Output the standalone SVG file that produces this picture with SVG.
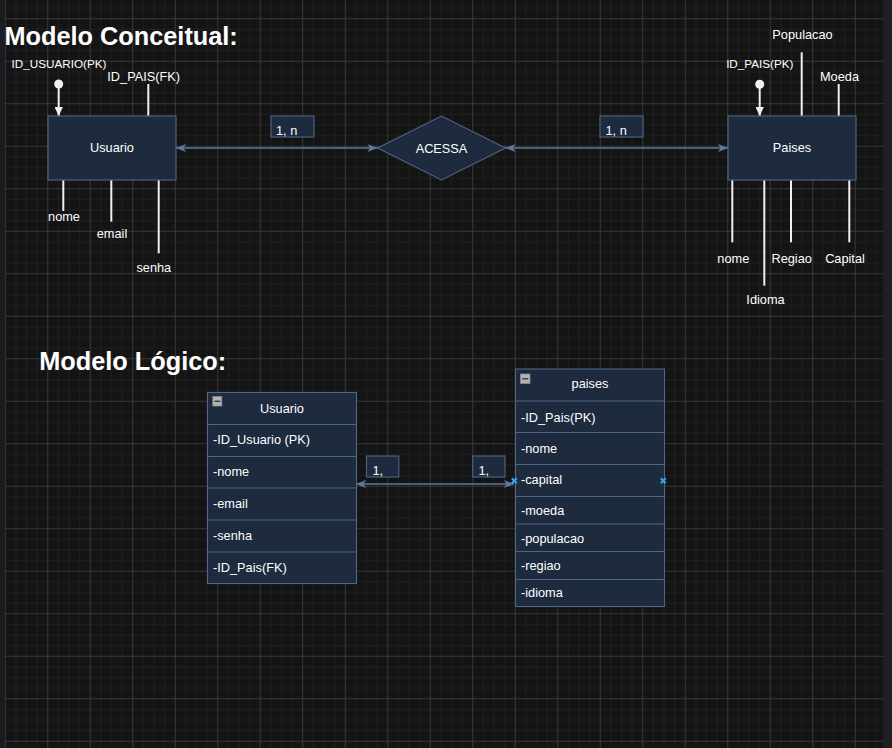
<svg xmlns="http://www.w3.org/2000/svg" width="892" height="748" viewBox="0 0 892 748">
<defs>
<style>
.t{font-family:"Liberation Sans",Arial,Helvetica,sans-serif;fill:#ffffff;font-size:12.75px}
.pk{font-size:11.7px}
.c{text-anchor:middle}
.title{font-size:25.3px;font-weight:bold}
.node{fill:#1e2a3d;stroke:#4f6688;stroke-width:1.1}
.attr{stroke:#f0f0f0;stroke-width:2;fill:none}
.conn{stroke:#5b7aa2;stroke-width:1.3;fill:none}
.div{stroke:#4f6688;stroke-width:1.1}
.xm{stroke:#2ea8e6;stroke-width:2;fill:none}
</style>
<pattern id="grid" x="4.75" y="18.25" width="42.5" height="42.5" patternUnits="userSpaceOnUse">
<rect width="42.5" height="42.5" fill="#141414"/>
<path d="M11.125 0V42.5M21.75 0V42.5M32.375 0V42.5M0 11.125H42.5M0 21.75H42.5M0 32.375H42.5" stroke="#1f1f1f" stroke-width="1"/>
<path d="M0.5 0V42.5M0 0.5H42.5" stroke="#383838" stroke-width="1"/>
</pattern>
<marker id="arr" viewBox="0 0 10 8" refX="10" refY="4" markerWidth="10" markerHeight="8" markerUnits="userSpaceOnUse" orient="auto-start-reverse">
<path d="M0,0 L10,4 L0,8 L2.5,4 Z" fill="#5b7aa2"/>
</marker>
<marker id="warr" viewBox="0 0 9 8.4" refX="9" refY="4.2" markerWidth="9" markerHeight="8.4" markerUnits="userSpaceOnUse" orient="auto">
<path d="M0,0 L9,4.2 L0,8.4 Z" fill="#f0f0f0"/>
</marker>
</defs>

<g id="background">
<rect x="0" y="0" width="892" height="748" fill="url(#grid)"/>
<rect x="0" y="0" width="5" height="748" fill="#1b1c1f"/>
<rect x="883" y="0" width="9" height="748" fill="#1f2023"/>
</g>

<g id="titles">
<text class="t title" x="4.5" y="44.5">Modelo Conceitual:</text>
<text class="t title" x="39.3" y="369.5">Modelo Lógico:</text>
</g>

<g id="connectors">
<line class="conn" x1="176" y1="148" x2="377.5" y2="148" marker-start="url(#arr)" marker-end="url(#arr)"/>
<line class="conn" x1="505.5" y1="148" x2="728" y2="148" marker-start="url(#arr)" marker-end="url(#arr)"/>
<line class="conn" x1="356" y1="484" x2="514" y2="484" marker-start="url(#arr)" marker-end="url(#arr)"/>
</g>

<g id="usuario-attrs">
<circle cx="58.7" cy="84" r="4.5" fill="#f0f0f0"/>
<line class="attr" x1="58.7" y1="84" x2="58.7" y2="116" marker-end="url(#warr)"/>
<text class="t pk c" x="59" y="67.5">ID_USUARIO(PK)</text>
<line class="attr" x1="148.3" y1="84" x2="148.3" y2="116"/>
<text class="t c" x="143.7" y="81">ID_PAIS(FK)</text>
<line class="attr" x1="63.3" y1="180" x2="63.3" y2="211"/>
<text class="t c" x="64" y="221">nome</text>
<line class="attr" x1="111.3" y1="180" x2="111.3" y2="221.7"/>
<text class="t c" x="112" y="237.7">email</text>
<line class="attr" x1="158.7" y1="180" x2="158.7" y2="253.3"/>
<text class="t c" x="153.8" y="271.7">senha</text>
</g>

<g id="usuario">
<rect class="node" x="48" y="116" width="128" height="64"/>
<text class="t c" x="112" y="152">Usuario</text>
</g>

<g id="acessa">
<polygon class="node" points="377.5,148 441.5,116 505.5,148 441.5,180"/>
<text class="t c" x="441.5" y="152.5">ACESSA</text>
</g>

<g id="label-1n-left">
<rect class="node" x="271" y="116" width="43" height="21"/>
<text class="t" x="276" y="135">1, n</text>
</g>

<g id="label-1n-right">
<rect class="node" x="600" y="116" width="43" height="21"/>
<text class="t" x="605.5" y="135">1, n</text>
</g>

<g id="paises-attrs">
<circle cx="759.7" cy="84.3" r="4.5" fill="#f0f0f0"/>
<line class="attr" x1="759.7" y1="84.3" x2="759.7" y2="116" marker-end="url(#warr)"/>
<text class="t pk c" x="759.8" y="68">ID_PAIS(PK)</text>
<line class="attr" x1="801.7" y1="52.3" x2="801.7" y2="116"/>
<text class="t c" x="802.5" y="39.3">Populacao</text>
<line class="attr" x1="838.7" y1="84" x2="838.7" y2="116"/>
<text class="t c" x="839.5" y="80.7">Moeda</text>
<line class="attr" x1="732.3" y1="180" x2="732.3" y2="242.3"/>
<text class="t c" x="733.3" y="263.3">nome</text>
<line class="attr" x1="764.3" y1="180" x2="764.3" y2="285.7"/>
<text class="t c" x="765.5" y="303.7">Idioma</text>
<line class="attr" x1="791" y1="180" x2="791" y2="242.3"/>
<text class="t c" x="791.7" y="263.3">Regiao</text>
<line class="attr" x1="849.3" y1="180" x2="849.3" y2="242.3"/>
<text class="t c" x="845" y="263.3">Capital</text>
</g>

<g id="paises">
<rect class="node" x="728" y="116" width="128" height="64"/>
<text class="t c" x="792" y="152">Paises</text>
</g>

<g id="table-usuario">
<rect class="node" x="207.5" y="392.5" width="149" height="191"/>
<line class="div" x1="207.5" y1="424.5" x2="356.5" y2="424.5"/>
<line class="div" x1="207.5" y1="456.5" x2="356.5" y2="456.5"/>
<line class="div" x1="207.5" y1="488" x2="356.5" y2="488"/>
<line class="div" x1="207.5" y1="520" x2="356.5" y2="520"/>
<line class="div" x1="207.5" y1="552" x2="356.5" y2="552"/>
<rect x="212.8" y="396.5" width="9" height="9.5" fill="#b4b4b4" stroke="#8a8a8a" stroke-width="0.8"/>
<line x1="214.5" y1="401.3" x2="220.2" y2="401.3" stroke="#222" stroke-width="1.2"/>
<text class="t c" x="282" y="412.7">Usuario</text>
<text class="t" x="213" y="444">-ID_Usuario (PK)</text>
<text class="t" x="213" y="475.5">-nome</text>
<text class="t" x="213" y="507.5">-email</text>
<text class="t" x="213" y="539.5">-senha</text>
<text class="t" x="213" y="571.5">-ID_Pais(FK)</text>
</g>

<g id="table-paises">
<rect class="node" x="515.5" y="369" width="149" height="237.5"/>
<line class="div" x1="515.5" y1="401" x2="664.5" y2="401"/>
<line class="div" x1="515.5" y1="432.5" x2="664.5" y2="432.5"/>
<line class="div" x1="515.5" y1="464.5" x2="664.5" y2="464.5"/>
<line class="div" x1="515.5" y1="496.5" x2="664.5" y2="496.5"/>
<line class="div" x1="515.5" y1="524" x2="664.5" y2="524"/>
<line class="div" x1="515.5" y1="551.5" x2="664.5" y2="551.5"/>
<line class="div" x1="515.5" y1="579.5" x2="664.5" y2="579.5"/>
<rect x="520.5" y="374" width="9.5" height="9.5" fill="#b4b4b4" stroke="#8a8a8a" stroke-width="0.8"/>
<line x1="522.3" y1="378.8" x2="528.2" y2="378.8" stroke="#222" stroke-width="1.2"/>
<text class="t c" x="590" y="388.3">paises</text>
<text class="t" x="521" y="421.7">-ID_Pais(PK)</text>
<text class="t" x="521" y="452.7">-nome</text>
<text class="t" x="521" y="484.3">-capital</text>
<text class="t" x="521" y="515.3">-moeda</text>
<text class="t" x="521" y="542.7">-populacao</text>
<text class="t" x="521" y="570">-regiao</text>
<text class="t" x="521" y="596.7">-idioma</text>
</g>

<g id="label-1-left">
<rect class="node" x="366.5" y="456" width="32.3" height="21"/>
<text class="t" x="372.5" y="475">1,</text>
</g>

<g id="label-1-right">
<rect class="node" x="472.7" y="456" width="32.3" height="21"/>
<text class="t" x="478.5" y="475">1,</text>
</g>

<g id="markers">
<path class="xm" d="M511.8 478.2L516.8 483.2M516.8 478.2L511.8 483.2"/>
<path class="xm" d="M660.8 478.3L665.8 483.3M665.8 478.3L660.8 483.3"/>
</g>
</svg>
